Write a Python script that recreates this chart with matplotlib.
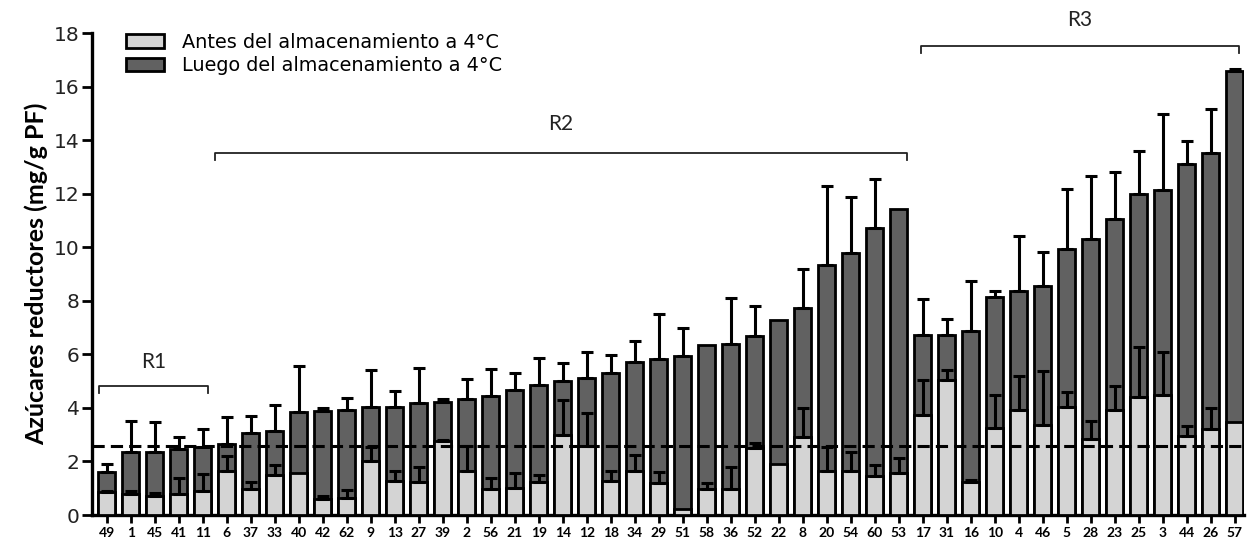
import numpy as np
import matplotlib
matplotlib.use('Agg')
import matplotlib.pyplot as plt

# ── data ──────────────────────────────────────────────────────────────────────
labels = ['49', '1', '45', '41', '11', '6', '37', '33', '40', '42', '62', '9', '13', '27', '39',
          '2', '56', '21', '19', '14', '12', '18', '34', '29', '51', '58', '36', '52', '22', '8',
          '20', '54', '60', '53', '17', '31', '16', '10', '4', '46', '5', '28', '23', '25', '3',
          '44', '26', '57']

luego = [1.59, 2.34, 2.36, 2.45, 2.55, 2.65, 3.05, 3.13, 3.86, 3.88, 3.91, 4.02, 4.04, 4.19, 4.22,
         4.34, 4.44, 4.66, 4.86, 5.02, 5.11, 5.29, 5.70, 5.81, 5.95, 6.34, 6.39, 6.69, 7.28, 7.72,
         9.32, 9.80, 10.71, 11.42, 6.72, 6.73, 6.87, 8.13, 8.38, 8.56, 9.95, 10.31, 11.07, 12.00,
         12.14, 13.12, 13.51, 16.57]
luego_sd = [0.31, 1.18, 1.10, 0.47, 0.68, 1.01, 0.63, 0.99, 1.72, 0.12, 0.47, 1.40, 0.61, 1.31, 0.12,
            0.73, 1.03, 0.64, 1.01, 0.64, 0.98, 0.69, 0.80, 1.70, 1.02, 0.0, 1.73, 1.11, 0.0, 1.46,
            2.98, 2.09, 1.85, 0.0, 1.35, 0.58, 1.86, 0.23, 2.03, 1.27, 2.24, 2.35, 1.75, 1.61,
            2.82, 0.84, 1.64, 0.10]

antes = [0.85, 0.77, 0.71, 0.77, 0.91, 1.65, 0.98, 1.49, 1.57, 0.58, 0.65, 2.01, 1.27, 1.24, 2.76,
         1.63, 0.97, 1.00, 1.24, 2.97, 2.59, 1.27, 1.63, 1.19, 0.21, 0.97, 0.97, 2.51, 1.92, 2.92,
         1.64, 1.65, 1.47, 1.57, 3.72, 5.06, 1.23, 3.25, 3.93, 3.35, 4.04, 2.85, 3.93, 4.40, 4.49,
         2.94, 3.20, 3.46]
antes_sd = [0.04, 0.12, 0.12, 0.62, 0.64, 0.56, 0.24, 0.38, 0.0, 0.12, 0.28, 0.54, 0.38, 0.54, 0.05,
            0.96, 0.40, 0.57, 0.26, 1.32, 1.23, 0.38, 0.60, 0.41, 0.0, 0.21, 0.83, 0.19, 0.0, 1.08,
            0.90, 0.71, 0.41, 0.56, 1.32, 0.36, 0.09, 1.23, 1.26, 2.02, 0.54, 0.65, 0.88, 1.89,
            1.60, 0.38, 0.80, 0.0]

umbral = 2.57
# groups: (name, first bar, last bar)
grupos = [("R1", 0, 4), ("R2", 5, 33), ("R3", 34, 47)]

DARK, LIGHT = "#616161", "#d4d4d4"

# ── figure ───────────────────────────────────────────────────────────────────
fig = plt.figure(figsize=(12.48, 5.41), dpi=100)
ax = fig.add_axes([0.074, 0.048, 0.923, 0.891])

x = np.arange(len(labels))
luego = np.array(luego); antes = np.array(antes)
luego_sd = np.array(luego_sd); antes_sd = np.array(antes_sd)

ax.bar(x, luego, width=0.72, color=DARK, edgecolor="black", linewidth=2.0, zorder=2,
       label="Luego del almacenamiento a 4°C")
m = luego_sd > 0
ax.errorbar(x[m], luego[m], yerr=[np.zeros(m.sum()), luego_sd[m]], fmt="none",
            ecolor="black", elinewidth=2.2, capsize=4, capthick=2.2, zorder=2.5)

ax.bar(x, antes, width=0.72, color=LIGHT, edgecolor="black", linewidth=2.0, zorder=3,
       label="Antes del almacenamiento a 4°C")
m = antes_sd > 0
ax.errorbar(x[m], antes[m], yerr=[np.zeros(m.sum()), antes_sd[m]], fmt="none",
            ecolor="black", elinewidth=2.2, capsize=4, capthick=2.2, zorder=3.5)

ax.axhline(umbral, color="black", lw=2.2, ls=(0, (4, 2)), zorder=5, clip_on=False)

# brackets
br = [(-0.32, 4.22, 4.81, 5.72), (4.53, 33.33, 13.53, 14.6), (33.92, 47.18, 17.51, 18.5)]
for (name, i0, i1), (xa, xb, yb, yt) in zip(grupos, br):
    h = 0.27
    ax.plot([xa, xa, xb, xb], [yb - h, yb, yb, yb - h], color="#222222", lw=1.3,
            clip_on=False, zorder=4)
    ax.text((xa + xb) / 2, yt, name, ha="center", va="center", fontsize=15,
            family="Lato", color="#222222", clip_on=False)

ax.set_xlim(-0.6, 47.4)
ax.set_ylim(0, 18)
ax.set_yticks(range(0, 19, 2))
ax.set_xticks(x)
ax.set_xticklabels(labels, fontsize=10, fontweight="bold", family="Lato")
ax.tick_params(axis="y", labelsize=14.5, width=2, length=7, direction="out", pad=2,
               labelcolor="#222222")
ax.tick_params(axis="x", width=2, length=5.5, direction="out", pad=3)
for s in ["top", "right"]:
    ax.spines[s].set_visible(False)
for s in ["left", "bottom"]:
    ax.spines[s].set_linewidth(2.4)

ax.set_ylabel("Azúcares reductores (mg/g PF)", fontsize=18, fontweight="bold", family="Lato",
              labelpad=4)

h, l = ax.get_legend_handles_labels()
ax.legend(h[::-1], l[::-1], loc="upper left", bbox_to_anchor=(0.029, 1.0), frameon=False,
          fontsize=13.9, handlelength=2.0, handleheight=0.72, labelspacing=0.22,
          borderpad=0, borderaxespad=0, handletextpad=0.9)

plt.savefig("out.png", dpi=100)
plt.close()
